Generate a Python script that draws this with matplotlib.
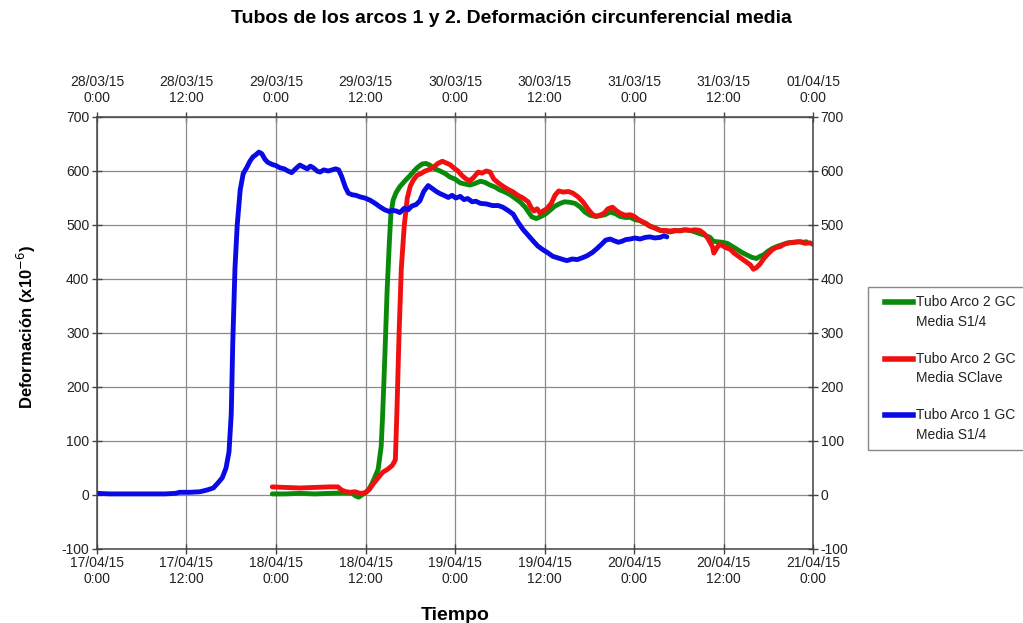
"""Mean circumferential strain of the arch tubes over the monitoring window."""
import matplotlib
matplotlib.use("Agg")
import matplotlib.pyplot as plt
import numpy as np
from matplotlib.legend_handler import HandlerLine2D
from matplotlib.lines import Line2D

plt.rcParams["font.family"] = ["Liberation Sans", "DejaVu Sans"]
plt.rcParams["axes.unicode_minus"] = False

# hours since 17/04/15 0:00 and mean strain (x10^-6)
arco1_s14_h = [0.0, 1.7, 4.4, 7.1, 9.1, 10.5, 11.1, 12.5, 13.8, 14.7, 15.6, 16.2, 16.8, 17.3, 17.7,
               18.0, 18.2, 18.5, 18.8, 19.2, 19.6, 20.1, 20.5, 20.9, 21.3, 21.7, 22.1, 22.5, 22.9,
               23.5, 24.0, 24.5, 25.1, 25.6, 26.1, 26.7, 27.2, 27.6, 28.2, 28.6, 29.0, 29.5, 29.9,
               30.4, 31.0, 31.5, 32.0, 32.4, 32.8, 33.3, 33.7, 34.2, 34.7, 35.3, 35.9, 36.6, 37.3,
               37.9, 38.6, 39.2, 39.6, 40.1, 40.6, 41.2, 41.7, 42.2, 42.8, 43.3, 43.8, 44.4, 44.9,
               45.5, 46.0, 46.5, 47.1, 47.6, 48.1, 48.7, 49.2, 49.7, 50.3, 50.8, 51.4, 52.2, 53.0,
               53.8, 54.4, 55.1, 55.8, 56.4, 57.1, 57.8, 58.5, 59.1, 59.8, 60.5, 61.1, 61.8, 62.5,
               63.0, 63.7, 64.4, 65.0, 65.7, 66.4, 67.0, 67.7, 68.2, 68.8, 69.3, 69.9, 70.4, 70.9,
               71.5, 72.1, 72.8, 73.5, 74.1, 74.8, 75.5, 76.0, 76.4]
arco1_s14 = [3, 2, 2, 2, 2, 3, 5, 5, 6, 9, 13, 22, 32, 50, 80,
             150, 280, 420, 500, 565, 595, 607, 618, 626, 630, 635, 632, 622, 616,
             612, 610, 606, 604, 600, 597, 605, 611, 608, 604, 609, 606, 600, 598,
             602, 600, 602, 604, 602, 590, 570, 559, 556, 555, 552, 550, 546, 540,
             534, 528, 525, 527, 526, 523, 531, 528, 535, 538, 545, 562, 573, 568,
             562, 558, 555, 551, 555, 550, 553, 547, 549, 543, 544, 540, 539, 536,
             536, 533, 527, 520, 506, 492, 481, 470, 461, 454, 448, 442, 439, 436,
             434, 437, 436, 439, 443, 449, 456, 465, 472, 474, 471, 468, 470, 473,
             474, 476, 474, 477, 478, 476, 477, 480, 478]

arco2_s14_h = [23.5, 25.2, 27.2, 29.2, 31.2, 33.3, 34.2, 34.7, 35.1, 35.5, 36.1, 36.6, 37.1, 37.7,
               38.1, 38.3, 38.6, 38.9, 39.2, 39.4, 39.7, 40.1, 40.6, 41.3, 42.0, 42.5, 43.0, 43.6,
               44.1, 44.6, 45.3, 46.0, 46.7, 47.3, 48.0, 48.7, 49.3, 50.0, 50.7, 51.4, 52.0, 52.7,
               53.4, 54.0, 54.7, 55.4, 56.0, 56.7, 57.4, 57.8, 58.3, 58.9, 59.4, 60.1, 60.7, 61.4,
               62.1, 62.7, 63.4, 64.1, 64.8, 65.4, 66.1, 66.8, 67.4, 68.1, 68.8, 69.5, 70.1, 70.8,
               71.5, 72.1, 72.8, 73.5, 74.1, 74.8, 75.5, 76.2, 76.8, 77.5, 78.2, 78.8, 79.5, 80.2,
               80.8, 81.5, 82.2, 82.6, 83.1, 83.8, 84.5, 85.1, 85.8, 86.5, 87.2, 87.8, 88.4, 88.9,
               89.4, 90.0, 90.6, 91.3, 92.0, 92.6, 93.3, 94.0, 94.7, 95.1]
arco2_s14 = [2, 2, 3, 2, 3, 4, 3, -2, -4, 0, 5, 14, 28, 48,
             90, 150, 260, 380, 470, 520, 546, 560, 571, 582, 592, 600, 607, 613,
             614, 611, 604, 600, 595, 589, 585, 578, 576, 574, 577, 581, 579, 574,
             570, 565, 561, 556, 550, 543, 533, 525, 515, 512, 515, 520, 527, 535,
             540, 543, 542, 540, 533, 524, 518, 516, 517, 519, 524, 521, 516, 514,
             514, 510, 508, 503, 498, 495, 490, 489, 487, 489, 490, 491, 490, 487,
             484, 481, 477, 470, 469, 468, 466, 461, 455, 449, 444, 440, 438, 442,
             445, 452, 457, 461, 464, 467, 468, 469, 468, 469]

arco2_sclave_h = [23.5, 25.2, 27.2, 29.2, 31.2, 32.3, 32.8, 33.4, 33.9, 34.6, 35.3, 35.9, 36.5, 37.0,
                  37.7, 38.3, 39.0, 39.6, 40.0, 40.2, 40.5, 40.8, 41.2, 41.6, 42.0, 42.4, 42.9, 43.4,
                  44.0, 44.6, 45.2, 45.7, 46.3, 46.8, 47.3, 47.9, 48.4, 48.9, 49.5, 50.0, 50.5, 51.1,
                  51.6, 52.2, 52.7, 53.2, 53.8, 54.4, 55.1, 55.8, 56.4, 57.1, 57.8, 58.2, 58.6, 59.0,
                  59.4, 59.8, 60.3, 60.9, 61.4, 61.9, 62.5, 63.2, 63.8, 64.5, 65.2, 65.8, 66.4, 66.9,
                  67.4, 68.0, 68.5, 69.1, 69.6, 70.1, 70.8, 71.5, 72.0, 72.5, 73.1, 73.6, 74.1, 74.8,
                  75.5, 76.2, 76.8, 77.5, 78.2, 78.8, 79.5, 80.2, 80.8, 81.4, 81.9, 82.5, 82.7, 83.0,
                  83.4, 83.8, 84.3, 84.9, 85.4, 85.9, 86.5, 87.0, 87.6, 88.0, 88.4, 88.9, 89.4, 90.0,
                  90.5, 91.0, 91.6, 92.2, 92.9, 93.6, 94.3, 94.9, 95.6, 96.0]
arco2_sclave = [15, 14, 13, 14, 15, 15, 9, 6, 5, 6, 3, 4, 10, 20,
                32, 42, 48, 55, 65, 150, 300, 420, 500, 550, 572, 583, 592, 595,
                600, 603, 608, 614, 618, 615, 612, 605, 600, 592, 585, 582, 588, 598,
                596, 600, 598, 585, 578, 572, 566, 561, 555, 550, 543, 532, 526, 530,
                522, 526, 530, 540, 555, 563, 561, 562, 559, 552, 542, 530, 520, 516,
                518, 522, 530, 533, 527, 522, 518, 519, 516, 511, 506, 503, 498, 494,
                490, 490, 489, 490, 489, 491, 490, 491, 490, 484, 475, 460, 448, 455,
                464, 462, 458, 455, 448, 443, 437, 432, 426, 418, 421, 428, 438, 447,
                454, 458, 460, 465, 467, 468, 469, 466, 467, 464]

tick_hours = [0, 12, 24, 36, 48, 60, 72, 84, 96]
labels_abril = ["17/04/15\n0:00", "17/04/15\n12:00", "18/04/15\n0:00", "18/04/15\n12:00",
                "19/04/15\n0:00", "19/04/15\n12:00", "20/04/15\n0:00", "20/04/15\n12:00",
                "21/04/15\n0:00"]
labels_marzo = ["28/03/15\n0:00", "28/03/15\n12:00", "29/03/15\n0:00", "29/03/15\n12:00",
                "30/03/15\n0:00", "30/03/15\n12:00", "31/03/15\n0:00", "31/03/15\n12:00",
                "01/04/15\n0:00"]

series_names = ["Tubo Arco 2 GC\nMedia S1/4", "Tubo Arco 2 GC\nMedia SClave",
                "Tubo Arco 1 GC\nMedia S1/4"]
series_colors = ["#0a8a0a", "#f01010", "#0a0ae6"]


class FirstLineHandler(HandlerLine2D):
    """Legend line drawn level with the first row of a two-line label, inset from the frame."""

    def create_artists(self, legend, orig_handle, xdescent, ydescent, width, height,
                       fontsize, trans):
        artists = super().create_artists(legend, orig_handle, xdescent, ydescent, width,
                                         height, fontsize, trans)
        for artist in artists:
            y = np.asarray(artist.get_ydata(), dtype=float)
            artist.set_ydata(y + fontsize * 0.75)
            x = np.asarray(artist.get_xdata(), dtype=float)
            if len(x) >= 2:
                x[0] += fontsize * 0.6
                artist.set_xdata(x)
        return artists


fig = plt.figure(figsize=(10.23, 6.23), dpi=100)
ax = fig.add_axes([0.0948, 0.1188, 0.7, 0.6934])

series = [(arco2_s14_h, arco2_s14), (arco2_sclave_h, arco2_sclave), (arco1_s14_h, arco1_s14)]
for (hours, values), color in zip(series, series_colors):
    ax.plot(hours, values, color=color, lw=3.5, solid_joinstyle="round", solid_capstyle="round")

ax.set_xlim(0, 96)
ax.set_ylim(-100, 700)
ax.set_yticks(range(-100, 701, 100))
ax.set_xticks(tick_hours)
ax.set_xticklabels(labels_abril)
ax.grid(True, color="#8a8a8a", lw=0.9)
for side in ax.spines.values():
    side.set_color("#444444")
    side.set_linewidth(1.1)
ax.tick_params(direction="inout", length=7, width=1, color="#444444", labelsize=10,
               labelcolor="#222222", right=True, labelright=True, pad=2)
ax.tick_params(axis="x", pad=1.5)

top = ax.secondary_xaxis("top")
top.set_xticks(tick_hours)
top.set_xticklabels(labels_marzo)
top.tick_params(direction="inout", length=7, width=1, color="#444444", labelsize=10,
                labelcolor="#222222", pad=5)

ax.set_ylabel("Deformación (x10$^{-6}$)", fontsize=12, fontweight="bold")
ax.yaxis.set_label_coords(-0.0824, 0.514)
ax.set_xlabel("Tiempo", fontsize=14, fontweight="bold", labelpad=15)
fig.text(0.5, 0.971, "Tubos de los arcos 1 y 2. Deformación circunferencial media",
         ha="center", va="center", fontsize=14, fontweight="bold")

handles = [Line2D([], [], color=c, lw=4) for c in series_colors]
leg = fig.legend(handles, series_names, loc="upper left", bbox_to_anchor=(868 / 1023, 1 - 287 / 623),
                 fontsize=10, frameon=True, fancybox=False, edgecolor="#888888", framealpha=1,
                 handlelength=2.65, handletextpad=0.2, labelspacing=1.65, borderpad=0.6,
                 borderaxespad=0, handler_map={Line2D: FirstLineHandler()})
leg.get_frame().set_linewidth(1.0)
for text in leg.get_texts():
    text.set_linespacing(1.5)
    text.set_color("#222222")

fig.savefig("out.png", dpi=100)
